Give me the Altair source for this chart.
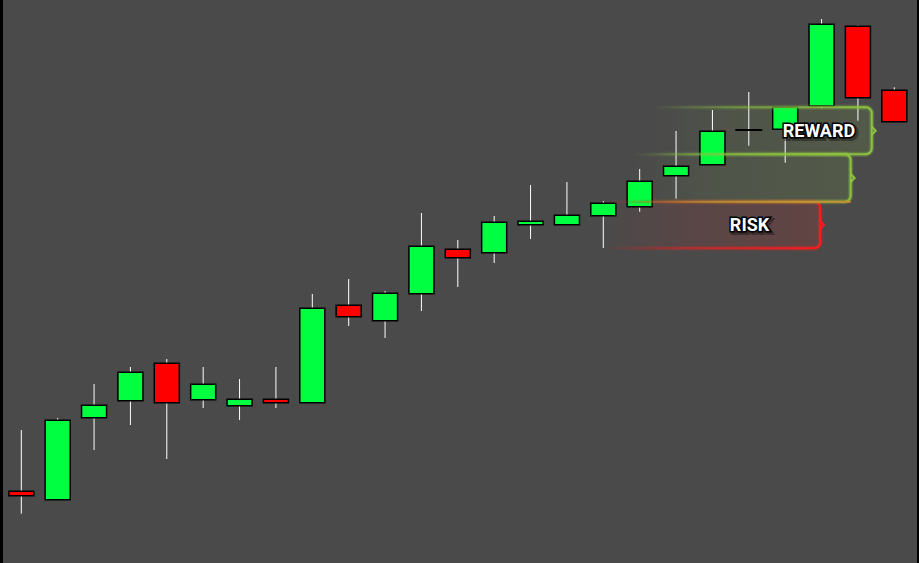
import altair as alt
import pandas as pd

# OHLC candles (price units, higher = up)
idx = list(range(1, 26))
opens = [71.7, 63.3, 145.3, 162.3, 199.7, 163.3, 157.3, 163.7, 160.3, 257.7,
         242.3, 269.3, 313.7, 310.3, 338.3, 338.3, 347.3, 356.3, 387.3, 398.3,
         433.0, 433.7, 457.0, 536.7, 472.7]
highs = [133, 145, 179, 196, 204, 196, 184, 196, 269, 284,
         272, 350, 323, 347, 378, 381, 362, 394, 432, 453,
         471, 455.7, 544, 538, 475.7]
lows = [49.3, 63.3, 113, 138, 104, 155, 143, 155, 160.3, 237,
        225, 252, 276, 300, 324, 338.3, 315, 351.3, 364.3, 398.3,
        417.3, 400.3, 454.7, 442.3, 441.3]
closes = [67.3, 142.7, 157.7, 190.7, 160.3, 178.7, 163.7, 160.3, 254.7, 246.3,
          269.7, 316.7, 305.3, 340.7, 341.7, 347.7, 359.7, 381.7, 396.7, 431.7,
          433.0, 455.7, 538.7, 465.3, 441.3]

# Trade zones: stop, entry, first and second target
zone_names = ["reward", "target", "risk"]
zone_left = [18.37, 17.79, 16.99]
zone_right = [24.38, 23.80, 22.96]
zone_low = [408.7, 361.3, 314.7]
zone_high = [455.7, 408.7, 361.3]

label_text = ["REWARD", "RISK"]
label_x = [22.93, 21.02]
label_y = [431.3, 337.5]

GREEN = "#00ff41"
RED = "#ff0000"
BG = "#4a4a4a"
ZONE_GREEN = "140,196,63"
ZONE_RED = "255,26,26"

candles = pd.DataFrame({"i": idx, "o": opens, "h": highs, "l": lows, "c": closes})
zones = pd.DataFrame({"name": zone_names, "x0": zone_left, "x1": zone_right,
                      "lo": zone_low, "hi": zone_high})
labels = pd.DataFrame({"t": label_text, "x": label_x, "y": label_y})

xs = alt.Scale(domain=[0.4144, 25.679], nice=False, zero=False)
ys = alt.Scale(domain=[0, 563], nice=False, zero=False)


def fade(rgb, alpha, mid=0.45):
    return alt.LinearGradient(
        gradient="linear", x1=0, y1=0, x2=1, y2=0,
        stops=[alt.GradientStop(offset=0, color=f"rgba({rgb},0)"),
               alt.GradientStop(offset=0.35, color=f"rgba({rgb},{alpha * mid})"),
               alt.GradientStop(offset=1, color=f"rgba({rgb},{alpha})")])


def zone_enc():
    return dict(
        x=alt.X("x0:Q", scale=xs, axis=None),
        x2="x1:Q",
        y=alt.Y("lo:Q", scale=ys, axis=None),
        y2="hi:Q",
    )


def zone_layers(name, rgb, fill_alpha):
    base = alt.Chart(zones).transform_filter(alt.datum.name == name)
    fill = base.mark_rect(fill=fade(rgb, fill_alpha, 0.6), cornerRadius=6).encode(**zone_enc())
    glow = base.mark_rect(fillOpacity=0, stroke=fade(rgb, 0.3), strokeWidth=5,
                          cornerRadius=6).encode(**zone_enc())
    line = base.mark_rect(fillOpacity=0, stroke=fade(rgb, 1.0), strokeWidth=2,
                          cornerRadius=6).encode(**zone_enc())
    tip = base.transform_calculate(mid="(datum.lo + datum.hi) / 2").mark_point(
        shape="M0,-1L1,0L0,1", size=64, filled=False, strokeWidth=2,
        color=f"rgb({rgb})", opacity=1,
    ).encode(x=alt.X("x1:Q", scale=xs, axis=None), y=alt.Y("mid:Q", scale=ys, axis=None))
    return fill, [glow, line, tip]


rw_fill, rw_lines = zone_layers("reward", ZONE_GREEN, 0.13)
tg_fill, tg_lines = zone_layers("target", ZONE_GREEN, 0.13)
rk_fill, rk_lines = zone_layers("risk", ZONE_RED, 0.13)

# blended edge where the first target zone sits on the risk zone
entry_edge = alt.Chart(zones).transform_filter(alt.datum.name == "target").mark_rect(
    height=2, fill=fade("200,140,45", 1.0)
).encode(x=alt.X("x0:Q", scale=xs, axis=None), x2="x1:Q",
         y=alt.Y("lo:Q", scale=ys, axis=None))

wicks = alt.Chart(candles).mark_rule(color="white", strokeWidth=1).encode(
    x=alt.X("i:Q", scale=xs, axis=None),
    y=alt.Y("l:Q", scale=ys, axis=None),
    y2="h:Q",
)

bodies = alt.Chart(candles).transform_calculate(
    a="datum.i - 0.344", b="datum.i + 0.344"
).mark_rect(stroke="black", strokeWidth=1.5).encode(
    x=alt.X("a:Q", scale=xs, axis=None),
    x2="b:Q",
    y=alt.Y("o:Q", scale=ys, axis=None),
    y2="c:Q",
    fill=alt.condition("datum.c >= datum.o", alt.value(GREEN), alt.value(RED)),
)

doji = alt.Chart(candles).transform_filter("datum.o == datum.c").transform_calculate(
    a="datum.i - 0.37", b="datum.i + 0.37"
).mark_rule(color="black", strokeWidth=2).encode(
    x=alt.X("a:Q", scale=xs, axis=None),
    x2="b:Q",
    y=alt.Y("o:Q", scale=ys, axis=None),
)

FONT = "Roboto, Liberation Sans, sans-serif"
text_base = alt.Chart(labels).encode(
    x=alt.X("x:Q", scale=xs, axis=None),
    y=alt.Y("y:Q", scale=ys, axis=None),
    text="t:N",
)
txt_kw = dict(font=FONT, fontSize=18, fontWeight="bold", align="center", baseline="middle")
shadow = text_base.mark_text(color="black", stroke="black", strokeWidth=4, opacity=0.35,
                             dx=2, dy=2, **txt_kw)
outline = text_base.mark_text(color="black", stroke="black", strokeWidth=3, **txt_kw)
fill_txt = text_base.mark_text(color="white", **txt_kw)

frame_df = pd.DataFrame({"k": [0]})
frame_left = alt.Chart(frame_df).mark_rect(color="black").encode(
    x=alt.value(0), x2=alt.value(3), y=alt.value(0), y2=alt.value(563))
frame_right = alt.Chart(frame_df).mark_rect(color="black").encode(
    x=alt.value(917), x2=alt.value(919), y=alt.value(0), y2=alt.value(563))

chart = alt.layer(
    rk_fill, tg_fill, rw_fill,
    wicks, bodies, doji,
    *rk_lines, *tg_lines, entry_edge, *rw_lines,
    shadow, outline, fill_txt,
    frame_left, frame_right,
).properties(
    width=919, height=563, background=BG, padding=0,
    autosize=alt.AutoSizeParams(type="none"),
).configure_view(stroke=None)

chart.save("out.html", embed_options={"renderer": "svg", "actions": False})
